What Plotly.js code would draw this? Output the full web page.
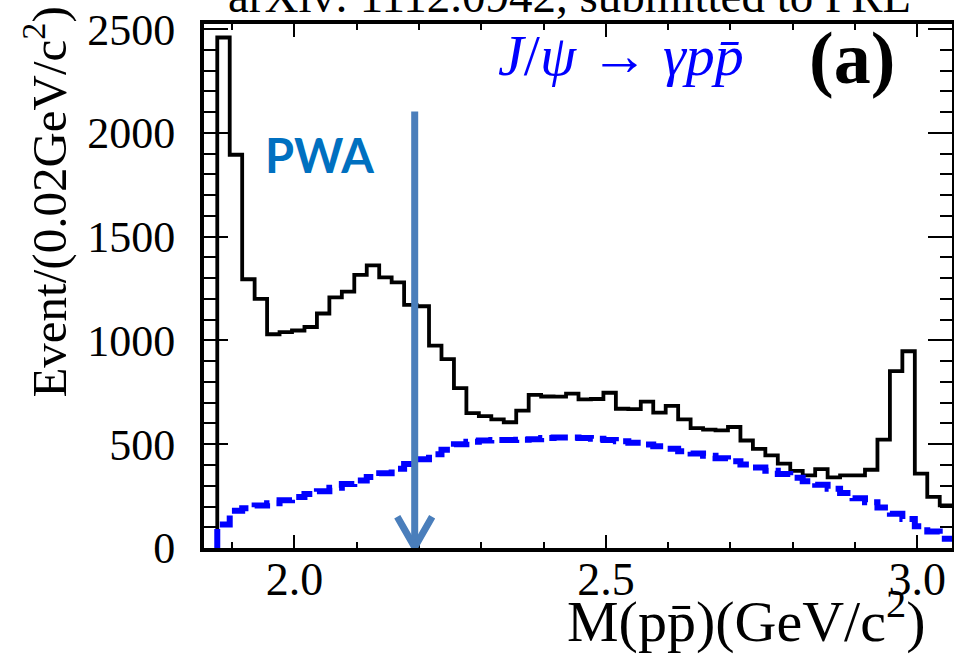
<!DOCTYPE html>
<html>
<head>
<meta charset="utf-8">
<script src="https://cdn.plot.ly/plotly-3.0.1.min.js"></script>
<style>
html,body{margin:0;padding:0;background:#fff;}
#chart{width:954px;height:655px;}
</style>
</head>
<body>
<div id="chart"></div>
<script>
// ---- data ----
const binStart = 1.876;   // GeV/c^2, first bin lower edge
const binWidth = 0.02;    // GeV/c^2
const dataCounts = [2460,1895,1295,1200,1030,1040,1048,1065,1130,1208,
                    1235,1316,1362,1304,1280,1172,1165,975,910,770,
                    650,635,620,606,662,738,730,729,744,716,
                    718,748,671,669,705,652,685,620,578,570,
                    567,583,518,478,446,407,372,350,380,340,
                    350,350,377,522,852,948,358,246,205];
const fitCounts = [113,180,192,205,216,230,246,260,274,290,
                   308,325,342,360,382,405,428,452,474,500,
                   512,518,520,521,522,524,530,532,532,530,
                   527,520,514,507,499,490,478,466,455,445,
                   432,418,402,388,372,357,338,322,305,285,
                   265,240,220,195,165,140,105,80,45];
const xTickVals = [2.0, 2.5, 3.0];
const xTickText = ['2.0', '2.5', '3.0'];
const yTickVals = [0, 500, 1000, 1500, 2000, 2500];
const yTickText = ['0', '500', '1000', '1500', '2000', '2500'];
const arrowMass = 2.193;
const arrowTop = 2103;

function stepXY(counts) {
  const xs = [binStart], ys = [0];
  counts.forEach((c, i) => { xs.push(binStart + i * binWidth); ys.push(c); });
  xs.push(binStart + counts.length * binWidth);
  ys.push(counts[counts.length - 1]);
  return {xs, ys};
}
const d = stepXY(dataCounts);
const f = stepXY(fitCounts);

const serif = 'Liberation Serif, Times New Roman, serif';

const traces = [
  {x: d.xs, y: d.ys, type: 'scatter', mode: 'lines',
   line: {shape: 'hv', color: '#000000', width: 3.8}, hoverinfo: 'skip'},
  {x: f.xs, y: f.ys, type: 'scatter', mode: 'lines',
   line: {shape: 'hv', color: '#0000ff', width: 6, dash: '19px,7px'}, hoverinfo: 'skip'}
];

const axisCommon = {
  showline: true, linewidth: 4, linecolor: '#000', mirror: 'ticks',
  showgrid: false, zeroline: false, ticks: 'inside', tickcolor: '#000', tickwidth: 2,
  fixedrange: true
};

const layout = {
  width: 954, height: 655,
  margin: {l: 204, r: 2, t: 24, b: 107, pad: 0},
  paper_bgcolor: '#ffffff', plot_bgcolor: '#ffffff',
  showlegend: false,
  xaxis: Object.assign({}, axisCommon, {
    range: [1.8547, 3.0557], tickmode: 'array', tickvals: xTickVals, ticktext: xTickText,
    ticklen: 13, ticklabelstandoff: -12,
    tickfont: {family: serif, size: 46, color: '#000'},
    minor: {tickmode: 'linear', tick0: 2.0, dtick: 0.1, ticks: 'inside', ticklen: 6, tickwidth: 2, tickcolor: '#000', showgrid: false}
  }),
  yaxis: Object.assign({}, axisCommon, {
    range: [0, 2525], tickmode: 'array', tickvals: yTickVals, ticktext: yTickText,
    ticklen: 24, ticklabelstandoff: 16,
    tickfont: {family: serif, size: 44, color: '#000'},
    minor: {tickmode: 'linear', tick0: 0, dtick: 100, ticks: 'inside', ticklen: 12, tickwidth: 2, tickcolor: '#000', showgrid: false}
  }),
  shapes: [
    {type: 'line', xref: 'x', yref: 'y', x0: arrowMass, x1: arrowMass, y0: arrowTop, y1: 0,
     line: {color: 'rgb(74,126,187)', width: 7}},
    {type: 'path', xref: 'x', yref: 'y',
     path: 'M ' + (arrowMass - 0.028) + ' 150 L ' + arrowMass + ' 4 L ' + (arrowMass + 0.028) + ' 150',
     line: {color: 'rgb(74,126,187)', width: 7}}
  ],
  annotations: [
    {text: 'arXiv: 1112.0942, submitted to PRL', xref: 'paper', yref: 'paper', x: 0.489, y: 1.0,
     xanchor: 'center', yanchor: 'bottom', showarrow: false,
     font: {family: serif, size: 47, color: '#000'}},
    {text: '<b>PWA</b>', xref: 'paper', yref: 'paper', x: 0.154, y: 0.75,
     xanchor: 'center', yanchor: 'middle', showarrow: false,
     font: {family: 'Lato, Noto Sans, sans-serif', size: 47, color: '#0070c0'}},
    {text: '<i>J</i>/<i>ψ</i> → <i>γpp̄</i>', xref: 'paper', yref: 'paper', x: 0.557, y: 0.94,
     xanchor: 'center', yanchor: 'middle', showarrow: false,
     font: {family: serif, size: 58, color: '#0000ff'}},
    {text: '<b>(a)</b>', xref: 'paper', yref: 'paper', x: 0.866, y: 0.935,
     xanchor: 'center', yanchor: 'middle', showarrow: false,
     font: {family: serif, size: 74, color: '#000'}},
    {text: 'Event/(0.02GeV/c<sup>2</sup>)', xref: 'paper', yref: 'paper', x: -0.212, y: 0.66,
     xanchor: 'center', yanchor: 'middle', textangle: -90, showarrow: false,
     font: {family: serif, size: 49, color: '#000'}},
    {text: 'M(pp̄)(GeV/c<sup>2</sup>)', xref: 'paper', yref: 'paper', x: 0.725, y: -0.206,
     xanchor: 'center', yanchor: 'bottom', showarrow: false,
     font: {family: serif, size: 58, color: '#000'}}
  ]
};

Plotly.newPlot('chart', traces, layout, {staticPlot: true, displayModeBar: false});
</script>
</body>
</html>
